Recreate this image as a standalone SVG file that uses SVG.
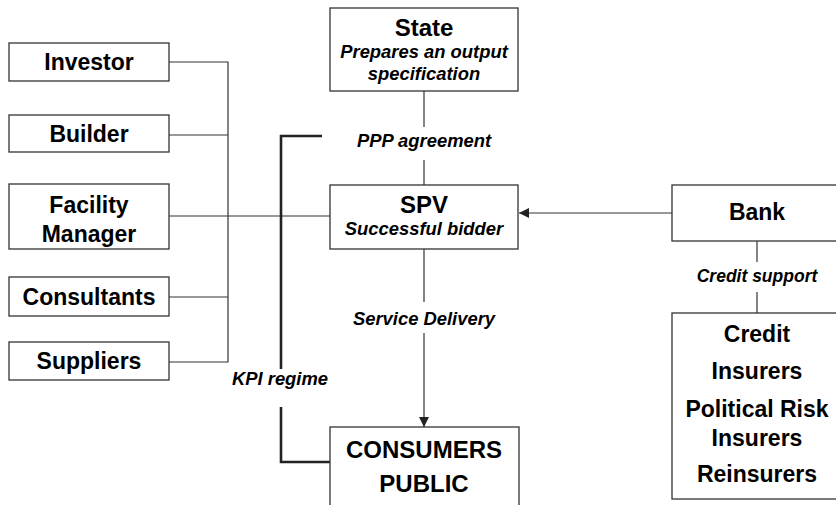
<svg xmlns="http://www.w3.org/2000/svg" width="836" height="505" viewBox="0 0 836 505">
  <style>
    .box { fill: #ffffff; stroke: #333333; stroke-width: 1.3; }
    .ln { fill: none; stroke: #333333; stroke-width: 1.2; }
    .kpi { fill: none; stroke: #222222; stroke-width: 2.6; }
    .t { font-family: "Liberation Sans", Arial, Helvetica, sans-serif; font-weight: bold; font-size: 23px; fill: #000; text-anchor: middle; }
    .big { font-size: 24px; }
    .it { font-family: "Liberation Sans", Arial, Helvetica, sans-serif; font-weight: bold; font-style: italic; font-size: 18.4px; fill: #000; text-anchor: middle; }
    .sm { font-size: 17.5px; }
  </style>
  <defs>
    <marker id="arrow" markerUnits="userSpaceOnUse" markerWidth="11" markerHeight="11" refX="10" refY="5" orient="auto">
      <path d="M0,0 L10,5 L0,10 z" fill="#222222"/>
    </marker>
  </defs>

  <rect width="836" height="505" fill="#ffffff"/>

  <!-- connectors -->
  <g id="connectors">
    <!-- contractor bus -->
    <path class="ln" d="M169,62 H228 V362 H169"/>
    <path class="ln" d="M169,135 H228"/>
    <path class="ln" d="M169,297 H228"/>
    <path class="ln" d="M169,216 H330"/>
    <!-- KPI regime -->
    <path class="kpi" d="M322,136 H281 V369"/>
    <path class="kpi" d="M281,407 V462 H330"/>
    <!-- State to SPV -->
    <path class="ln" d="M424,91 V127"/>
    <path class="ln" d="M424,160 V185"/>
    <!-- SPV to consumers -->
    <path class="ln" d="M424,249 V302"/>
    <path class="ln" d="M424,333 V427" marker-end="url(#arrow)"/>
    <!-- Bank to SPV -->
    <path class="ln" d="M672,213 H519" marker-end="url(#arrow)"/>
    <!-- Bank to insurers -->
    <path class="ln" d="M757,241 V262"/>
    <path class="ln" d="M757,292 V313"/>
    <!-- labels -->
    <text class="it" x="424" y="147">PPP agreement</text>
    <text class="it" x="424" y="325">Service Delivery</text>
    <text class="it" x="280" y="385">KPI regime</text>
    <text class="it sm" x="757" y="282">Credit support</text>
  </g>

  <g id="investor">
    <rect class="box" x="9" y="43" width="160" height="38"/>
    <text class="t" x="89" y="70">Investor</text>
  </g>
  <g id="builder">
    <rect class="box" x="9" y="115" width="160" height="37"/>
    <text class="t" x="89" y="142">Builder</text>
  </g>
  <g id="facility-manager">
    <rect class="box" x="9" y="184" width="160" height="65"/>
    <text class="t" x="89" y="213">Facility</text>
    <text class="t" x="89" y="242">Manager</text>
  </g>
  <g id="consultants">
    <rect class="box" x="9" y="277" width="160" height="39"/>
    <text class="t" x="89" y="305">Consultants</text>
  </g>
  <g id="suppliers">
    <rect class="box" x="9" y="342" width="160" height="38"/>
    <text class="t" x="89" y="369">Suppliers</text>
  </g>

  <g id="state">
    <rect class="box" x="330" y="8" width="188" height="83"/>
    <text class="t big" x="424" y="36">State</text>
    <text class="it" x="424" y="58">Prepares an output</text>
    <text class="it" x="424" y="80">specification</text>
  </g>
  <g id="spv">
    <rect class="box" x="330" y="185" width="188" height="64"/>
    <text class="t big" x="424" y="213">SPV</text>
    <text class="it" x="424" y="235">Successful bidder</text>
  </g>
  <g id="consumers">
    <rect class="box" x="330" y="427" width="189" height="85"/>
    <text class="t big" x="424" y="458">CONSUMERS</text>
    <text class="t big" x="424" y="492">PUBLIC</text>
  </g>
  <g id="bank">
    <rect class="box" x="672" y="185" width="170" height="56"/>
    <text class="t" x="757" y="220">Bank</text>
  </g>
  <g id="insurers">
    <rect class="box" x="672" y="313" width="170" height="186"/>
    <text class="t" x="757" y="342">Credit</text>
    <text class="t" x="757" y="379">Insurers</text>
    <text class="t" x="757" y="417">Political Risk</text>
    <text class="t" x="757" y="446">Insurers</text>
    <text class="t" x="757" y="482">Reinsurers</text>
  </g>
</svg>
